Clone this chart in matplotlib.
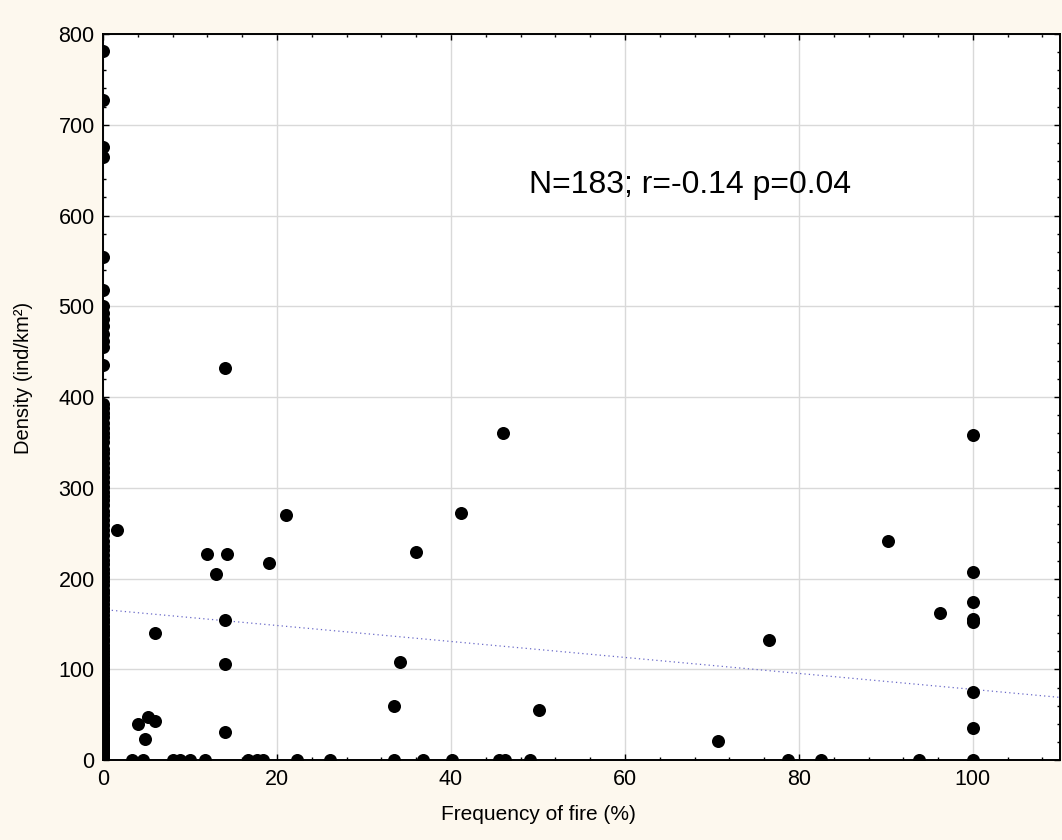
import matplotlib
matplotlib.use("Agg")
import matplotlib.pyplot as plt
from matplotlib.ticker import MultipleLocator

plt.rcParams['font.family'] = ['Liberation Sans', 'DejaVu Sans']

# Sites where fire was never recorded (frequency 0 %)
density_no_fire = [
    781, 727, 675, 665, 554, 518, 500, 493, 486, 478, 470, 462, 455, 435,
    392, 388, 383, 378, 372, 366, 361, 356, 350, 343,
    338, 333, 327, 322, 318, 312, 306, 301, 296, 291,
    287, 281, 275, 270, 265, 259, 254, 248, 242, 236,
    232, 226, 221, 216, 211, 206, 202, 197, 193, 188,
    184, 180, 176, 172, 168, 164, 160, 156, 152, 148,
    145, 141, 138, 134, 131, 127, 124, 120, 117, 114,
    111, 108, 105, 102, 99, 96, 93, 90, 87, 84,
    81, 78, 75, 72, 70, 67, 64, 62, 59, 56,
    54, 51, 49, 46, 44, 41, 39, 36, 34, 32,
    29, 27, 25, 23, 21, 19, 17, 15, 13, 11,
    9, 8, 6, 5, 4, 3, 2, 1, 0, 0,
    0, 0, 0, 0, 0, 0,
]

# Sites with some fire and a positive density
fire_freq = [1.6, 4.0, 4.8, 5.2, 6.0, 6.0, 12.0, 13.0, 14.0, 14.0, 14.0, 14.0,
             14.3, 19.1, 21.0, 33.4, 34.1, 36.0, 41.2, 46.0, 50.1, 70.7, 76.6,
             90.2, 96.2, 100, 100, 100, 100, 100, 100, 100, 100]
fire_density = [254, 40, 23, 48, 43, 140, 227, 205, 432, 155, 106, 31,
                227, 217, 270, 60, 108, 229, 272, 360, 55, 21, 132,
                241, 162, 358, 207, 174, 156, 152, 75, 35, 0]

# Sites with some fire but no animals recorded
zero_freq = [3.3, 4.6, 8.0, 8.8, 10.0, 11.7, 16.7, 17.7, 18.4, 22.3, 26.1,
             33.4, 36.8, 40.1, 45.5, 46.2, 49.1, 78.7, 82.5, 93.8]

# Linear fit (intercept, slope)
fit_intercept = 166.0
fit_slope = -0.88

x_vals = [0.0] * len(density_no_fire) + fire_freq + zero_freq
y_vals = density_no_fire + fire_density + [0.0] * len(zero_freq)

fig = plt.figure(figsize=(10.62, 8.4), dpi=100, facecolor='#FDF8EE')
ax = fig.add_axes([0.097, 0.095, 0.901, 0.8645])
ax.set_facecolor('white')

ax.scatter(x_vals, y_vals, s=88, color='black', zorder=3, clip_on=True,
           linewidths=0)

xfit = [0, 110]
yfit = [fit_intercept + fit_slope * v for v in xfit]
ax.plot(xfit, yfit, linestyle=(0, (1, 2.5)), color='#6a6ac8', linewidth=0.9,
        zorder=2)

ax.set_xlim(0, 110)
ax.set_ylim(0, 800)
ax.xaxis.set_major_locator(MultipleLocator(20))
ax.xaxis.set_minor_locator(MultipleLocator(4))
ax.yaxis.set_major_locator(MultipleLocator(100))
ax.yaxis.set_minor_locator(MultipleLocator(20))
ax.set_xticks([0, 20, 40, 60, 80, 100])

ax.grid(True, which='major', color='#d9d9d9', linewidth=1.0, zorder=0)
ax.set_axisbelow(True)

ax.tick_params(which='both', direction='in', top=True, right=True,
               labelsize=15.5, color='black', width=1.0, pad=6)
ax.tick_params(which='major', length=4)
ax.tick_params(which='minor', length=2)

for sp in ax.spines.values():
    sp.set_linewidth(1.4)
    sp.set_color('black')

ax.set_xlabel('Frequency of fire (%)', fontsize=15, labelpad=8)
ax.xaxis.set_label_coords(50 / 110, -0.062)
ax.set_ylabel('Density (ind/km²)', fontsize=14.5, labelpad=10)
ax.yaxis.set_label_coords(-0.073, 0.526)

ax.text(67.5, 634, 'N=183; r=-0.14 p=0.04', fontsize=23, ha='center',
        va='center', color='black')

fig.savefig('out.png', dpi=100, facecolor=fig.get_facecolor())
